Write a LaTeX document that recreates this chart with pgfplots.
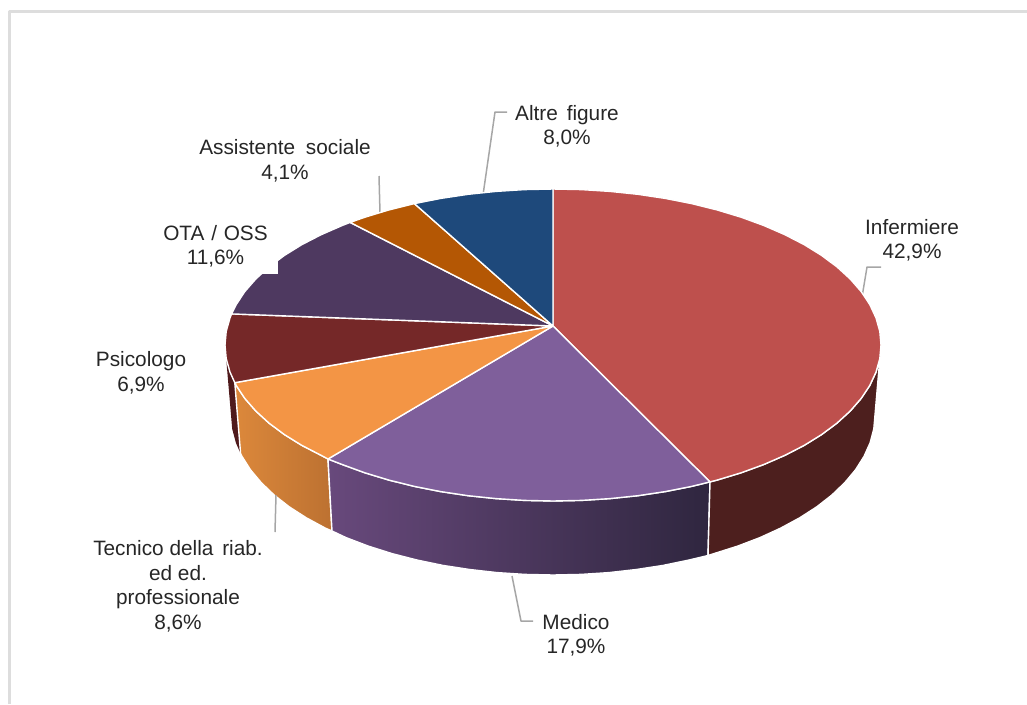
\documentclass[border=0pt]{standalone}
\usepackage{pgfplots}
\pgfplotsset{compat=1.18}
\usepackage{fontspec}
\setmainfont{Liberation Sans}
\definecolor{labeltext}{HTML}{262626}
\definecolor{leader}{HTML}{A6A6A6}
\definecolor{framegray}{HTML}{DDDDDD}
\definecolor{inferTop}{HTML}{BE504D}
\definecolor{inferSide}{HTML}{4D1F1E}
\definecolor{medTop}{HTML}{7F5F9B}
\definecolor{medSideL}{HTML}{68497C}
\definecolor{medSideR}{HTML}{2F263F}
\definecolor{tecTop}{HTML}{F39545}
\definecolor{tecSideL}{HTML}{DC883B}
\definecolor{tecSideR}{HTML}{BC7131}
\definecolor{psiTop}{HTML}{752828}
\definecolor{psiSide}{HTML}{4F1A1C}
\definecolor{otaTop}{HTML}{4E3960}
\definecolor{assTop}{HTML}{B45704}
\definecolor{altTop}{HTML}{1E497B}
\tikzset{
    slice/.style={draw=white, line width=1.4pt},
    guide/.style={draw=leader, line width=1.5pt},
    lab/.style={font=\fontsize{20.8}{24.5}\selectfont, text=labeltext, align=center, inner sep=0pt},
}

\begin{document}
\begin{tikzpicture}
\begin{axis}[
    scale only axis, width=1027pt, height=704pt,
    xmin=0, xmax=1027, ymin=0, ymax=704, y dir=reverse,
    axis lines=none, clip=true,
    every axis plot/.append style={mark=none, line join=round},
]
% keeps the whole plot area in the page box
\addplot[draw=none] coordinates {(0,0) (1027,704)};
% frame
\addplot[draw=framegray, line width=3pt] coordinates {(9.5,704) (9.5,11) (1027,11)};

% side walls
\addplot[draw=none, fill=psiSide] coordinates {
    (225,345) (231,415) (232.2,428.9) (235.9,442.8) (240.6,453.7)
    (234.8,382.7) (230,372.1) (226.2,358.6)
} --cycle;
\addplot[slice, left color=tecSideL, right color=tecSideR] coordinates {
    (328,459) (321.1,455.3) (301.7,445.3) (284.3,434.5) (268.9,423) (255.7,410.9)
    (244.8,398.4) (236.2,385.4) (234.8,382.7)
    (240.6,453.7) (242,456.4) (250.4,469.7) (261.2,482.6) (274.1,495) (289.2,506.8)
    (306.3,517.8) (325.3,528.1) (332,531)
} --cycle;
\addplot[slice, left color=medSideL, right color=medSideR] coordinates {
    (710,481.9) (691.6,486.4) (665.2,491.6) (637.9,495.7) (610,498.6) (581.6,500.4)
    (553,501) (524.4,500.4) (496,498.6) (468.1,495.7) (440.8,491.6) (414.4,486.4)
    (389,480.1) (364.9,472.8) (342.2,464.5) (328,459)
    (332,531) (346,537.6) (368.3,546.1) (392,553.6) (416.9,560) (442.9,565.4)
    (469.7,569.5) (497.1,572.6) (524.9,574.4) (553,575) (581.1,574.4) (608.9,572.6)
    (636.3,569.5) (663.1,565.4) (689.1,560) (708,555.5)
} --cycle;
\addplot[slice, fill=inferSide] coordinates {
    (881,345) (879.8,358.6) (876,372.1) (869.8,385.4) (861.2,398.4) (850.3,410.9)
    (837.1,423) (821.7,434.5) (804.3,445.3) (784.9,455.3) (763.8,464.5) (741.1,472.8)
    (717,480.1) (710,481.9)
    (708,555.5) (714,553.6) (737.7,546.1) (760,537.6) (780.7,528.1) (799.7,517.8)
    (816.8,506.8) (831.9,495) (844.8,482.6) (855.6,469.7) (864,456.4) (870.1,442.8)
    (873.8,428.9) (875,415)
} --cycle;

% leader lines
\addplot[guide] coordinates {(862,297) (867,267) (881,267)};
\addplot[guide] coordinates {(512,576) (521,621) (533,621)};
\addplot[guide] coordinates {(276,495) (275,532)};
\addplot[guide] coordinates {(380,213) (379,176)};
\addplot[guide] coordinates {(483,195) (495,112) (507,112)};

% top face
\addplot[slice, fill=inferTop] coordinates {
    (553,326) (553,189) (581.6,189.6) (610,191.4) (637.9,194.3) (665.2,198.4) (691.6,203.6)
    (717,209.9) (741.1,217.2) (763.8,225.5) (784.9,234.7) (804.3,244.7) (821.7,255.5)
    (837.1,267) (850.3,279.1) (861.2,291.6) (869.8,304.6) (876,317.9) (879.8,331.4)
    (881,345) (879.8,358.6) (876,372.1) (869.8,385.4) (861.2,398.4) (850.3,410.9)
    (837.1,423) (821.7,434.5) (804.3,445.3) (784.9,455.3) (763.8,464.5) (741.1,472.8)
    (717,480.1) (710,481.9)
} --cycle;
\addplot[slice, fill=medTop] coordinates {
    (553,326) (710,481.9) (691.6,486.4) (665.2,491.6) (637.9,495.7) (610,498.6) (581.6,500.4)
    (553,501) (524.4,500.4) (496,498.6) (468.1,495.7) (440.8,491.6) (414.4,486.4)
    (389,480.1) (364.9,472.8) (342.2,464.5) (328,459)
} --cycle;
\addplot[slice, fill=tecTop] coordinates {
    (553,326) (328,459) (321.1,455.3) (301.7,445.3) (284.3,434.5) (268.9,423) (255.7,410.9)
    (244.8,398.4) (236.2,385.4) (234.8,382.7)
} --cycle;
\addplot[slice, fill=psiTop] coordinates {
    (553,326) (234.8,382.7) (230,372.1) (226.2,358.6) (225,345) (226.2,331.4) (230,317.9)
    (231.6,313.9)
} --cycle;
\addplot[slice, fill=otaTop] coordinates {
    (553,326) (231.6,313.9) (236.2,304.6) (244.8,291.6) (255.7,279.1) (268.9,267) (284.3,255.5)
    (301.7,244.7) (321.1,234.7) (342.2,225.5) (350.1,222.4)
} --cycle;
\addplot[slice, fill=assTop] coordinates {
    (553,326) (350.1,222.4) (364.9,217.2) (389,209.9) (414.4,203.6)
} --cycle;
\addplot[slice, fill=altTop] coordinates {
    (553,326) (414.4,203.6) (440.8,198.4) (468.1,194.3) (496,191.4) (524.4,189.6) (553,189)
} --cycle;

% label box of OTA / OSS bites a notch out of the slice
\addplot[draw=none, fill=white] coordinates {(250,250) (278,250) (278,274) (250,274)} --cycle;

% labels
\node[lab] at (axis cs:567,126.5) {Altre\hspace{3pt} figure\\8,0\%};
\node[lab] at (axis cs:912,240.5) {Infermiere\\42,9\%};
\node[lab] at (axis cs:576,635.5) {Medico\\17,9\%};
\node[lab] at (axis cs:178,586.5) {Tecnico della\hspace{3pt} riab.\\ed ed.\\professionale\\8,6\%};
\node[lab] at (axis cs:141,373) {Psicologo\\6,9\%};
\node[lab] at (axis cs:215.5,246.5) {OTA\hspace{1pt} /\hspace{1pt} OSS\\11,6\%};
\node[lab] at (axis cs:285,161) {Assistente\hspace{5pt} sociale\\4,1\%};
\end{axis}
\end{tikzpicture}
\end{document}
